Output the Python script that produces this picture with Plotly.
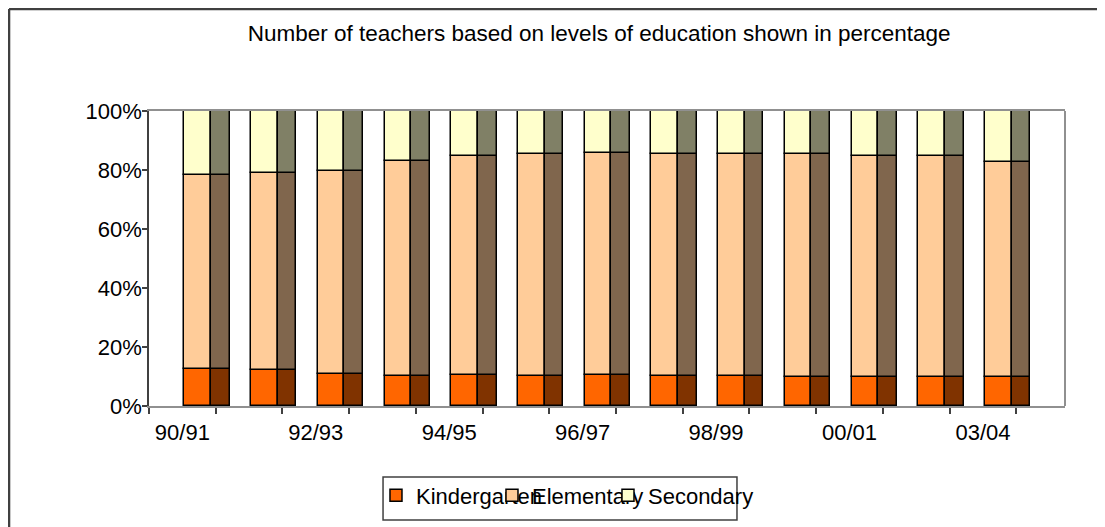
import numpy as np
import plotly.graph_objects as go

categories = ["90/91", "91/92", "92/93", "93/94", "94/95", "95/96", "96/97",
              "97/98", "98/99", "99/00", "00/01", "01/02", "03/04"]
kindergarten = [12.4, 12.3, 10.9, 10.3, 10.5, 10.3, 10.5, 10.3, 10.3, 9.8, 9.8, 9.8, 9.8]
elementary = [65.8, 66.6, 68.7, 72.7, 74.4, 75.2, 75.3, 75.2, 75.2, 75.7, 75.0, 75.0, 73.0]
secondary = [21.8, 21.1, 20.4, 17.0, 15.1, 14.5, 14.2, 14.5, 14.5, 14.5, 15.2, 15.2, 17.2]
label_every = 2

series = [
    ("Kindergarten", kindergarten, "#FF6600", "#803300"),
    ("Elementary", elementary, "#FFCC99", "#80664D"),
    ("Secondary", secondary, "#FFFFCC", "#808066"),
]

x = np.arange(len(categories))
fig = go.Figure()
base = np.zeros(len(categories))
for name, vals, front, side in series:
    v = np.array(vals, dtype=float)
    fig.add_trace(go.Bar(
        x=x, y=v, base=base, name=name, offset=0.03, width=0.40,
        marker=dict(color=front, line=dict(color="black", width=1.5)),
        legendgroup=name, showlegend=True, hoverinfo="skip"))
    fig.add_trace(go.Bar(
        x=x, y=v, base=base, name=name, offset=0.43, width=0.28,
        marker=dict(color=side, line=dict(color="black", width=1.5)),
        legendgroup=name, showlegend=False, hoverinfo="skip"))
    base = base + v

# empty legend slot so the last label is not clipped by the legend area
fig.add_trace(go.Bar(x=[None], y=[None], name=" ", showlegend=True,
                     marker=dict(color="rgba(0,0,0,0)", line=dict(width=0)),
                     legendgroup="pad", hoverinfo="skip"))

font = "Liberation Sans, Arial, sans-serif"
fs = 22
fig.update_layout(
    width=1105, height=527,
    margin=dict(l=141, r=48, t=103, b=129),
    paper_bgcolor="white", plot_bgcolor="white",
    barmode="overlay",
    bargap=0,
    font=dict(family=font, size=fs, color="black"),
    title=dict(text="Number of teachers based on levels of education shown in percentage",
               x=0.535, y=0.9526, xanchor="center", yanchor="middle",
               font=dict(size=22.5, family=font, color="black")),
    showlegend=True,
    legend=dict(orientation="h", x=0.2478, y=-0.232, xanchor="left", yanchor="top",
                borderwidth=0, bgcolor="rgba(0,0,0,0)",
                entrywidth=71, entrywidthmode="pixels", itemwidth=30,
                font=dict(size=fs, family=font, color="black"),
                traceorder="normal"),
    xaxis=dict(range=[-0.5, 13.23], showgrid=False, zeroline=False,
               tickmode="array",
               tickvals=list(x[::label_every]),
               ticktext=categories[::label_every],
               ticks="outside", ticklen=5, tickcolor="rgba(0,0,0,0)",
               ticklabelstandoff=1,
               minor=dict(tickmode="array",
                          tickvals=list(np.arange(-0.5, len(categories), 1.0)),
                          ticks="outside", ticklen=6, tickcolor="#404040", tickwidth=1.5),
               showline=True, linecolor="#909090", linewidth=2, mirror=True,
               tickfont=dict(size=fs, family=font)),
    yaxis=dict(range=[0, 100], tickvals=[0, 20, 40, 60, 80, 100],
               ticktext=["0%", "20%", "40%", "60%", "80%", "100%"],
               showgrid=False, zeroline=False,
               ticks="outside", ticklen=5, tickcolor="#404040", tickwidth=1.5,
               ticklabelstandoff=-4,
               showline=True, linecolor="#404040", linewidth=1.5,
               tickfont=dict(size=fs, family=font)),
)

# plot-area right border, legend frame and outer chart frame (top and left edges)
fig.add_shape(type="line", xref="paper", yref="paper", x0=1, x1=1, y0=0, y1=1,
              line=dict(color="#909090", width=2))
fig.add_shape(type="rect", xref="paper", yref="paper", x0=0.2555, x1=0.6419,
              y0=-0.3864, y1=-0.2407, line=dict(color="#404040", width=1.5))
fig.add_shape(type="line", xref="paper", yref="paper", x0=-0.1528, x1=1.06, y0=1.3458, y1=1.3458,
              line=dict(color="#404040", width=2.5))
fig.add_shape(type="line", xref="paper", yref="paper", x0=-0.1528, x1=-0.1528, y0=1.3458, y1=-0.45,
              line=dict(color="#404040", width=2.5))

fig.write_html("out.html")
